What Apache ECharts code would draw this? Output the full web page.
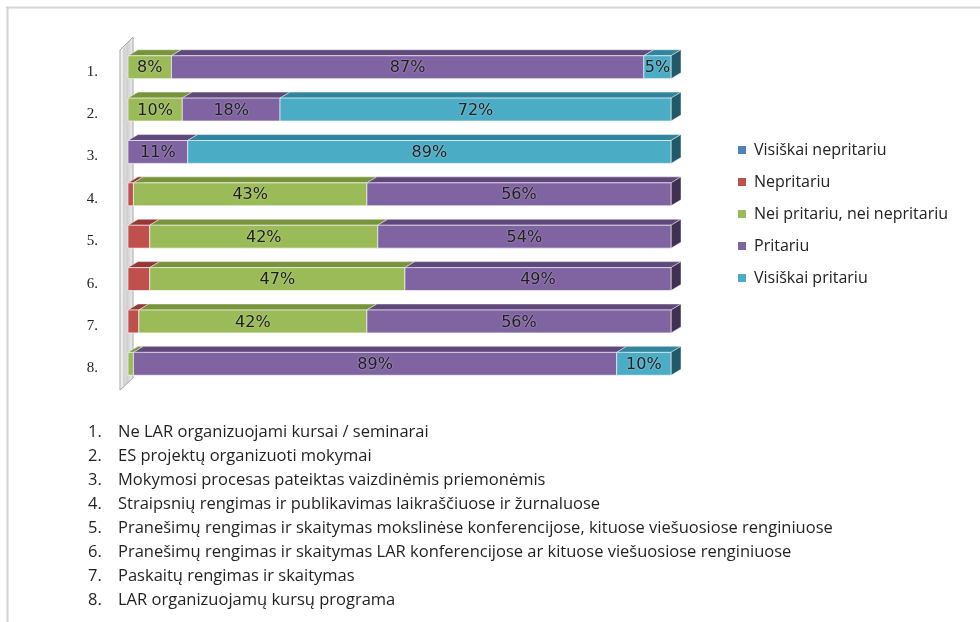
<!DOCTYPE html>
<html>
<head>
<meta charset="utf-8">
<script src="https://cdn.jsdelivr.net/npm/echarts@6/dist/echarts.min.js"></script>
<style>
  html, body { margin: 0; padding: 0; background: #fff; }
  #main { width: 980px; height: 622px; }
</style>
</head>
<body>
<div id="main"></div>
<script>
// categories (rows) and series values, percent
const categories = ['1.', '2.', '3.', '4.', '5.', '6.', '7.', '8.'];
const visiskaiNepritariu = [0, 0, 0, 0, 0, 0, 0, 0];
const nepritariu = [0, 0, 0, 1, 4, 4, 2, 0];
const neiPritariu = [8, 10, 0, 43, 42, 47, 42, 1];
const pritariu = [87, 18, 11, 56, 54, 49, 56, 89];
const visiskaiPritariu = [5, 72, 89, 0, 0, 0, 0, 10];

const seriesNames = ['Visiškai nepritariu', 'Nepritariu', 'Nei pritariu, nei nepritariu', 'Pritariu', 'Visiškai pritariu'];
const seriesValues = [visiskaiNepritariu, nepritariu, neiPritariu, pritariu, visiskaiPritariu];

const itemNames = [
  'Ne LAR organizuojami kursai / seminarai',
  'ES projektų organizuoti mokymai',
  'Mokymosi procesas pateiktas vaizdinėmis priemonėmis',
  'Straipsnių rengimas ir publikavimas laikraščiuose ir žurnaluose',
  'Pranešimų rengimas ir skaitymas mokslinėse konferencijose, kituose viešuosiose renginiuose',
  'Pranešimų rengimas ir skaitymas LAR konferencijose ar kituose viešuosiose renginiuose',
  'Paskaitų rengimas ir skaitymas',
  'LAR organizuojamų kursų programa'
];

// front / top / side face colours
const faces = [
  { front: '#4F81BD', top: '#385D8A', side: '#254061' },
  { front: '#C0504D', top: '#953735', side: '#632523' },
  { front: '#9BBB59', top: '#77933C', side: '#4F6228' },
  { front: '#8064A2', top: '#5F497A', side: '#3F3151' },
  { front: '#4BACC6', top: '#31859C', side: '#215968' }
];

const DX = 10, DY = 6;

function boxRenderer(f) {
  return function (params, api) {
    const start = api.value(0), end = api.value(1), idx = api.value(2), val = api.value(3);
    if (val <= 0) return;
    const p0 = api.coord([start, idx]);
    const p1 = api.coord([end, idx]);
    const h = api.size([0, 1])[1] * 0.54;
    const x0 = p0[0], x1 = p1[0];
    const top = p0[1] - h / 2, bot = p0[1] + h / 2;
    const kids = [
      { type: 'polygon', shape: { points: [[x0, top], [x0 + DX, top - DY], [x1 + DX, top - DY], [x1, top]] },
        style: { fill: f.top, stroke: 'rgba(255,255,255,0.45)', lineWidth: 1 } },
      { type: 'polygon', shape: { points: [[x1, top], [x1 + DX, top - DY], [x1 + DX, bot - DY], [x1, bot]] },
        style: { fill: f.side, stroke: 'rgba(255,255,255,0.45)', lineWidth: 1 } },
      { type: 'rect', shape: { x: x0, y: top, width: x1 - x0, height: h },
        style: { fill: f.front, stroke: 'rgba(255,255,255,0.6)', lineWidth: 1 } }
    ];
    if (val >= 5) {
      kids.push({ type: 'text', x: (x0 + x1) / 2, y: p0[1] + 1,
        style: { text: val + '%', align: 'center', verticalAlign: 'middle',
          font: '16px "DejaVu Sans"', fill: '#1e1e1e',
          textShadowColor: 'rgba(255,255,255,0.5)', textShadowBlur: 2 } });
    }
    return { type: 'group', children: kids };
  };
}

const series = seriesValues.map(function (vals, s) {
  const data = vals.map(function (v, i) {
    let start = 0;
    for (let k = 0; k < s; k++) start += seriesValues[k][i];
    return [start, start + v, i, v];
  });
  return {
    type: 'custom',
    name: seriesNames[s],
    itemStyle: { color: faces[s].front },
    renderItem: boxRenderer(faces[s]),
    encode: { x: [0, 1], y: 2 },
    data: data,
    z: 2 + s
  };
});

const chart = echarts.init(document.getElementById('main'));
const gridL = 128, gridT = 46, gridB = 385;

const graphics = [
  { type: 'line', shape: { x1: 6, y1: 7.5, x2: 980, y2: 7.5 }, style: { stroke: '#d4d4d4', lineWidth: 2 } },
  { type: 'line', shape: { x1: 7.5, y1: 7, x2: 7.5, y2: 622 }, style: { stroke: '#d4d4d4', lineWidth: 2 } },
  // left 3D wall
  { type: 'polygon', z: 1, shape: { points: [[gridL - 8, gridT + 4], [gridL + 5, gridT - 9], [gridL + 5, gridB - 7], [gridL - 8, gridB + 5]] },
    style: { fill: { type: 'linear', x: 0, y: 0, x2: 1, y2: 0, colorStops: [{ offset: 0, color: '#fafafa' }, { offset: 0.55, color: '#cfcfcf' }, { offset: 1, color: '#f0f0f0' }] },
      stroke: '#a6a6a6', lineWidth: 1 } },
  { type: 'line', z: 1, shape: { x1: gridL - 4, y1: gridT + 2, x2: gridL - 4, y2: gridB + 3 }, style: { stroke: '#c8c8c8', lineWidth: 1 } }
];

itemNames.forEach(function (t, i) {
  const y = 432 + i * 24;
  graphics.push({ type: 'text', x: 88, y: y, style: { text: (i + 1) + '.', font: '16.5px "Open Sans"', fill: '#231f20', verticalAlign: 'middle' } });
  graphics.push({ type: 'text', x: 118, y: y, style: { text: t, font: '16.5px "Open Sans"', fill: '#231f20', verticalAlign: 'middle' } });
});

chart.setOption({
  animation: false,
  backgroundColor: '#fff',
  grid: { left: gridL, top: gridT, width: 543, height: gridB - gridT },
  xAxis: { type: 'value', min: 0, max: 100, show: false },
  yAxis: {
    type: 'category', data: categories, inverse: true,
    axisLine: { show: false }, axisTick: { show: false },
    axisLabel: {
      margin: 30, color: '#222',
      formatter: function (v) { return '{a|' + v + '}'; },
      rich: { a: { fontFamily: 'Liberation Serif', fontSize: 15, color: '#222', padding: [9, 0, 0, 0] } }
    }
  },
  legend: {
    orient: 'vertical', left: 733, top: 137, itemWidth: 8, itemHeight: 8, itemGap: 16, icon: 'rect',
    selectedMode: false,
    textStyle: { fontFamily: 'Open Sans', fontSize: 16, color: '#222', lineHeight: 16, padding: [0, 0, 0, 3] },
    data: seriesNames
  },
  graphic: graphics,
  series: series
});
</script>
</body>
</html>
